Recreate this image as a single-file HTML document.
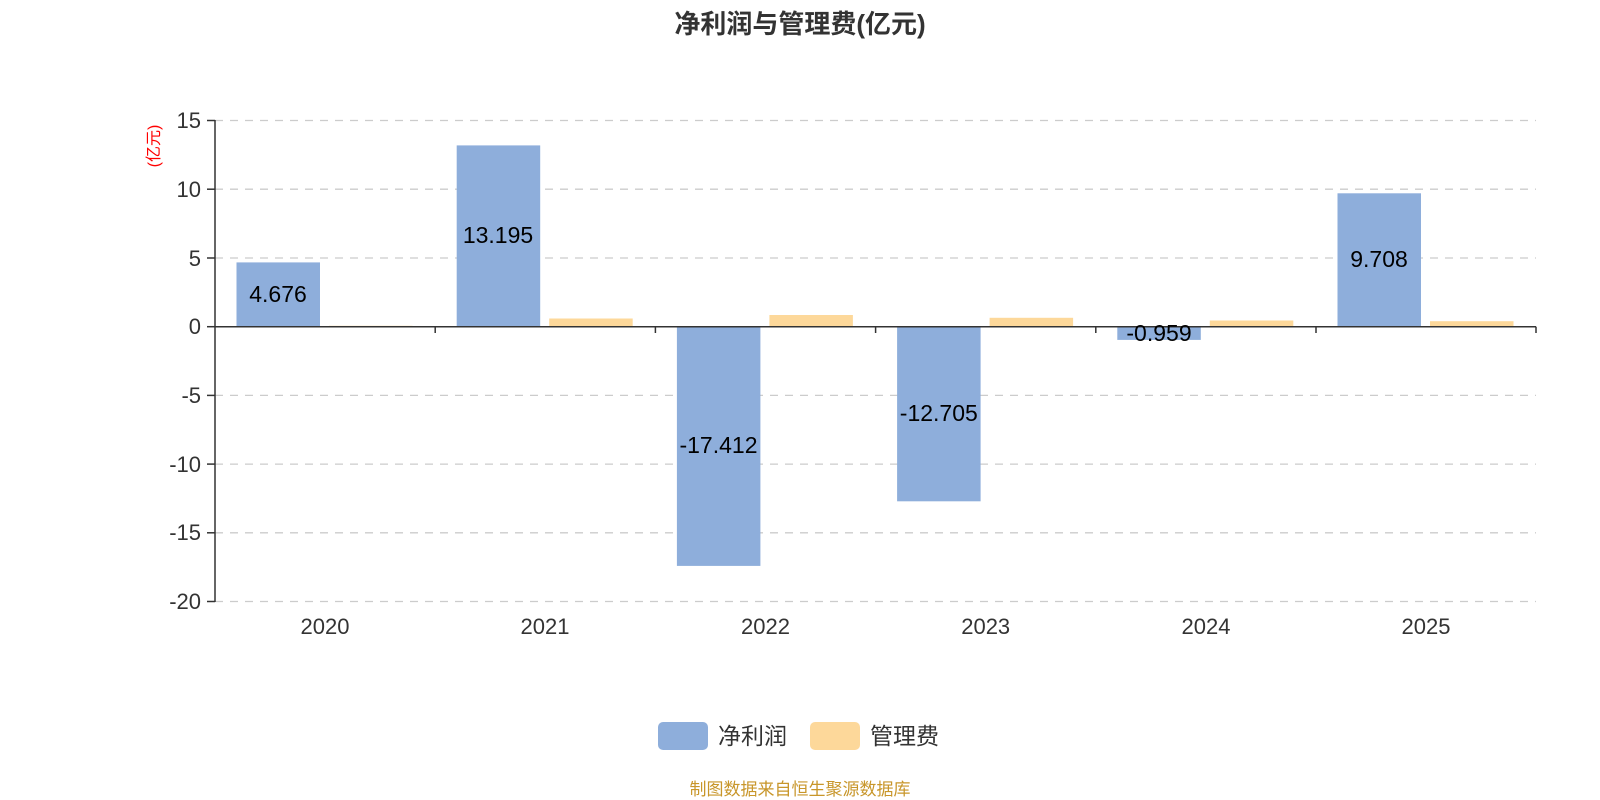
<!DOCTYPE html>
<html><head><meta charset="utf-8"><style>
html,body{margin:0;padding:0;background:#fff;}
svg{display:block;font-family:"Liberation Sans","Noto Sans CJK SC",sans-serif;}
</style></head><body>
<svg width="1600" height="800" viewBox="0 0 1600 800" xmlns="http://www.w3.org/2000/svg">
<text x="800" y="33" text-anchor="middle" font-size="26" font-weight="bold" fill="#333">净利润与管理费(亿元)</text>
<g stroke="#ccc" stroke-width="1.3" stroke-dasharray="8,7">
<line x1="215" y1="120.5" x2="1536" y2="120.5"/>
<line x1="215" y1="189.2" x2="1536" y2="189.2"/>
<line x1="215" y1="258" x2="1536" y2="258"/>
<line x1="215" y1="395.4" x2="1536" y2="395.4"/>
<line x1="215" y1="464.1" x2="1536" y2="464.1"/>
<line x1="215" y1="532.8" x2="1536" y2="532.8"/>
<line x1="215" y1="601.5" x2="1536" y2="601.5"/>
</g>
<g fill="#8eaedb">
<rect x="236.5" y="262.4" width="83.5" height="64.3"/>
<rect x="456.7" y="145.4" width="83.5" height="181.3"/>
<rect x="676.9" y="326.7" width="83.5" height="239.2"/>
<rect x="897.1" y="326.7" width="83.5" height="174.6"/>
<rect x="1117.3" y="326.7" width="83.5" height="13.2"/>
<rect x="1337.5" y="193.3" width="83.5" height="133.4"/>
</g>
<g fill="#fdd89a">
<rect x="329" y="325.8" width="83.5" height="0.9"/>
<rect x="549.2" y="318.5" width="83.5" height="8.2"/>
<rect x="769.4" y="315" width="83.5" height="11.7"/>
<rect x="989.6" y="317.8" width="83.5" height="8.9"/>
<rect x="1209.8" y="320.5" width="83.5" height="6.2"/>
<rect x="1430" y="321.2" width="83.5" height="5.5"/>
</g>
<g stroke="#333" stroke-width="1.5">
<line x1="215" y1="120" x2="215" y2="602"/>
<line x1="215" y1="326.7" x2="1536" y2="326.7"/>
<line x1="207" y1="120.5" x2="215" y2="120.5"/>
<line x1="207" y1="189.2" x2="215" y2="189.2"/>
<line x1="207" y1="258" x2="215" y2="258"/>
<line x1="207" y1="326.7" x2="215" y2="326.7"/>
<line x1="207" y1="395.4" x2="215" y2="395.4"/>
<line x1="207" y1="464.1" x2="215" y2="464.1"/>
<line x1="207" y1="532.8" x2="215" y2="532.8"/>
<line x1="207" y1="601.5" x2="215" y2="601.5"/>
<line x1="435.2" y1="326.7" x2="435.2" y2="333"/>
<line x1="655.4" y1="326.7" x2="655.4" y2="333"/>
<line x1="875.6" y1="326.7" x2="875.6" y2="333"/>
<line x1="1095.8" y1="326.7" x2="1095.8" y2="333"/>
<line x1="1316" y1="326.7" x2="1316" y2="333"/>
<line x1="1536" y1="326.7" x2="1536" y2="333"/>
</g>
<g font-size="22" fill="#333" text-anchor="end">
<text x="201" y="128">15</text>
<text x="201" y="197">10</text>
<text x="201" y="266">5</text>
<text x="201" y="334">0</text>
<text x="201" y="403">-5</text>
<text x="201" y="472">-10</text>
<text x="201" y="540">-15</text>
<text x="201" y="609">-20</text>
</g>
<text transform="translate(159,146) rotate(-90)" text-anchor="middle" font-size="16" fill="#f00">(亿元)</text>
<g font-size="22" fill="#333" text-anchor="middle">
<text x="325" y="634">2020</text>
<text x="545" y="634">2021</text>
<text x="765.5" y="634">2022</text>
<text x="985.7" y="634">2023</text>
<text x="1206" y="634">2024</text>
<text x="1426" y="634">2025</text>
</g>
<g font-size="23" fill="#000" text-anchor="middle">
<text x="278" y="302">4.676</text>
<text x="498" y="243">13.195</text>
<text x="718.5" y="453">-17.412</text>
<text x="938.8" y="421">-12.705</text>
<text x="1159" y="341">-0.959</text>
<text x="1379" y="267">9.708</text>
</g>
<rect x="658" y="722" width="50" height="28" rx="5" fill="#8eaedb"/>
<text x="718" y="744" font-size="23" fill="#333">净利润</text>
<rect x="810" y="722" width="50" height="28" rx="5" fill="#fdd89a"/>
<text x="870" y="744" font-size="23" fill="#333">管理费</text>
<text x="800" y="795" text-anchor="middle" font-size="17" fill="#c8962a">制图数据来自恒生聚源数据库</text>
</svg>
</body></html>
